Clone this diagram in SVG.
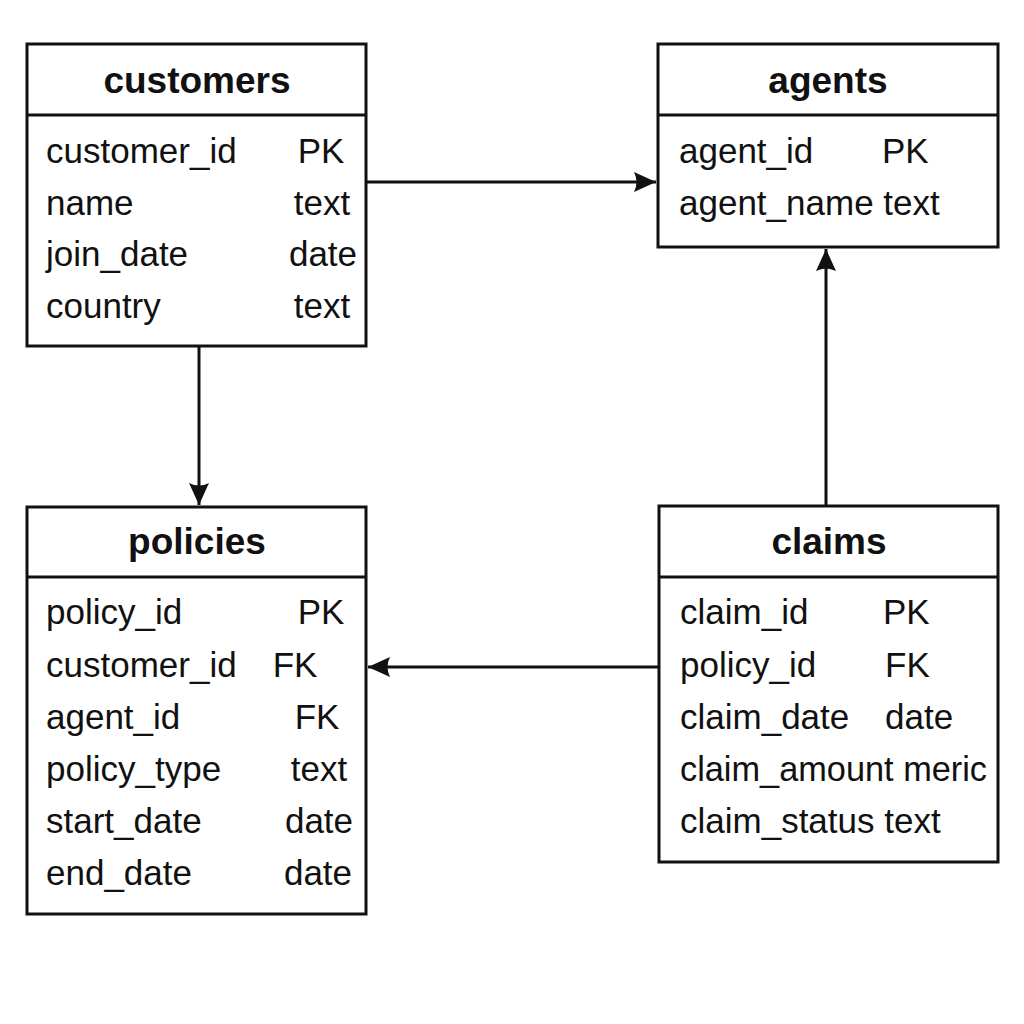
<svg xmlns="http://www.w3.org/2000/svg" width="1024" height="1024" viewBox="0 0 1024 1024">
<defs>
<style>
.box{fill:#fff;stroke:#111;stroke-width:3}
.sep{stroke:#111;stroke-width:3}
.title{font-family:"Liberation Sans",Arial,sans-serif;font-weight:bold;font-size:37px;fill:#111;text-anchor:middle}
.row{font-family:"Liberation Sans",Arial,sans-serif;font-size:35px;fill:#111}
.mid{text-anchor:middle}
.conn{stroke:#111;stroke-width:3;fill:none}
</style>
<marker id="arr" viewBox="0 0 22 20" refX="22" refY="10" markerWidth="22" markerHeight="20" markerUnits="userSpaceOnUse" orient="auto">
<path d="M0,0 L22,10 L0,20 Q5,10 0,0 Z" fill="#111"/>
</marker>
</defs>
<rect width="1024" height="1024" fill="#fff"/>
<g id="connectors">
<line class="conn" x1="366" y1="182" x2="656" y2="182" marker-end="url(#arr)"/>
<line class="conn" x1="199" y1="346" x2="199" y2="505" marker-end="url(#arr)"/>
<line class="conn" x1="826" y1="506" x2="826" y2="249" marker-end="url(#arr)"/>
<line class="conn" x1="659" y1="667" x2="368" y2="667" marker-end="url(#arr)"/>
</g>
<g id="customers">
<rect class="box" x="27" y="44" width="339" height="302"/>
<line class="sep" x1="27" y1="115" x2="366" y2="115"/>
<text class="title" x="197" y="93">customers</text>
<text class="row" x="46" y="163">customer_id</text><text class="row mid" x="321" y="163">PK</text>
<text class="row" x="46" y="215">name</text><text class="row mid" x="322" y="215">text</text>
<text class="row" x="46" y="266">join_date</text><text class="row mid" x="323" y="266">date</text>
<text class="row" x="46" y="318">country</text><text class="row mid" x="322" y="318">text</text>
</g>
<g id="agents">
<rect class="box" x="658" y="44" width="340" height="203"/>
<line class="sep" x1="658" y1="115" x2="998" y2="115"/>
<text class="title" x="828" y="93">agents</text>
<text class="row" x="679" y="163">agent_id</text><text class="row" x="882" y="163">PK</text>
<text class="row" x="679" y="215">agent_name text</text>
</g>
<g id="policies">
<rect class="box" x="27" y="507" width="339" height="407"/>
<line class="sep" x1="27" y1="577" x2="366" y2="577"/>
<text class="title" x="197" y="554">policies</text>
<text class="row" x="46" y="624">policy_id</text><text class="row mid" x="321" y="624">PK</text>
<text class="row" x="46" y="677">customer_id</text><text class="row mid" x="295" y="677">FK</text>
<text class="row" x="46" y="729">agent_id</text><text class="row mid" x="317" y="729">FK</text>
<text class="row" x="46" y="781">policy_type</text><text class="row mid" x="319" y="781">text</text>
<text class="row" x="46" y="833">start_date</text><text class="row mid" x="319" y="833">date</text>
<text class="row" x="46" y="885">end_date</text><text class="row mid" x="318" y="885">date</text>
</g>
<g id="claims">
<rect class="box" x="659" y="506" width="339" height="356"/>
<line class="sep" x1="659" y1="577" x2="998" y2="577"/>
<text class="title" x="829" y="554">claims</text>
<text class="row" x="680" y="624">claim_id</text><text class="row" x="883" y="624">PK</text>
<text class="row" x="680" y="677">policy_id</text><text class="row" x="885" y="677">FK</text>
<text class="row" x="680" y="729">claim_date</text><text class="row" x="885" y="729">date</text>
<text class="row" x="680" y="781" textLength="307" lengthAdjust="spacingAndGlyphs">claim_amount meric</text>
<text class="row" x="680" y="833">claim_status text</text>
</g>
</svg>
